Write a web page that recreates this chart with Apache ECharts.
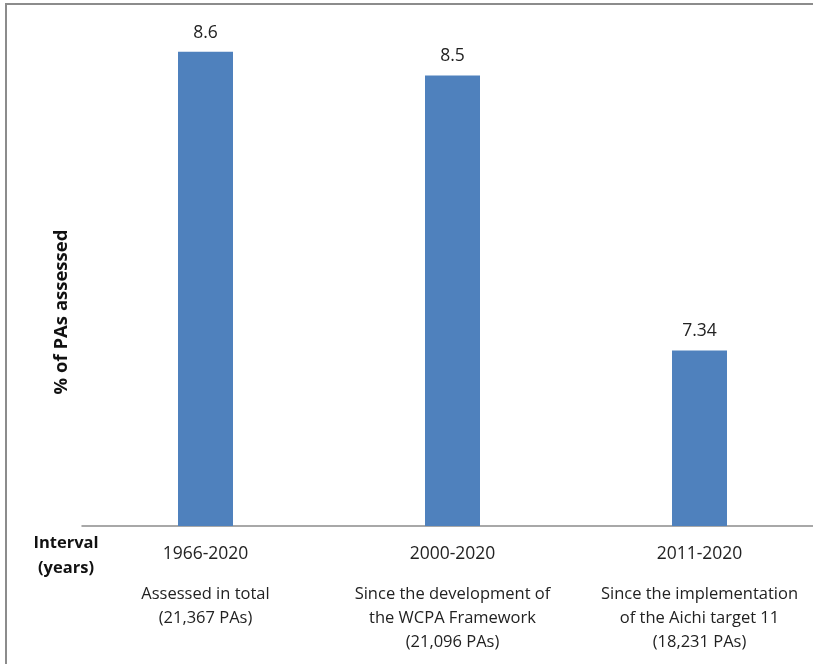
<!DOCTYPE html>
<html>
<head>
<meta charset="utf-8">
<script src="https://cdn.jsdelivr.net/npm/echarts@6/dist/echarts.min.js"></script>
<style>
html,body{margin:0;padding:0;background:#fff;}
#main{width:813px;height:664px;}
</style>
</head>
<body>
<div id="main"></div>
<script>
const periods = ['1966-2020', '2000-2020', '2011-2020'];
const descriptions = [
  ['Assessed in total', '(21,367 PAs)'],
  ['Since the development of', 'the WCPA Framework', '(21,096 PAs)'],
  ['Since the implementation', 'of the Aichi target 11', '(18,231 PAs)']
];
const values = [8.6, 8.5, 7.34];
const yAxisTitle = '% of PAs assessed';
const xAxisTitle = ['Interval', '(years)'];

const FONT = '"Open Sans", "Noto Sans", sans-serif';
const chart = echarts.init(document.getElementById('main'));

const catLabels = periods.map((p, i) =>
  '{yr|' + p + '}\n' + descriptions[i].map(d => '{d|' + d + '}').join('\n'));

chart.setOption({
  animation: false,
  backgroundColor: '#fff',
  grid: { left: 82, width: 741, top: 51.7, bottom: 664 - 526, outerBoundsMode: 'none', containLabel: false },
  xAxis: {
    type: 'category',
    data: catLabels,
    axisLine: { show: true, lineStyle: { color: '#8c8c8c', width: 1.5 } },
    axisTick: { show: false },
    axisLabel: {
      interval: 0,
      margin: 0,
      fontFamily: FONT,
      color: '#222',
      rich: {
        yr: { fontSize: 17.5, lineHeight: 56, color: '#222', fontFamily: FONT, align: 'center' },
        d: { fontSize: 16.5, lineHeight: 24, color: '#222', fontFamily: FONT, align: 'center' }
      }
    }
  },
  yAxis: {
    type: 'value',
    min: 6.6,
    max: 8.6,
    show: true,
    axisLine: { show: false },
    axisTick: { show: false },
    axisLabel: { show: false },
    splitLine: { show: false }
  },
  series: [{
    type: 'bar',
    data: values,
    barWidth: 55,
    itemStyle: { color: '#4f81bd' },
    label: {
      show: true,
      position: 'top',
      distance: 10,
      fontSize: 17.5,
      fontFamily: FONT,
      color: '#222',
      formatter: p => String(p.value)
    }
  }],
  graphic: [
    {
      type: 'rect',
      shape: { x: 6, y: 4, width: 900, height: 800 },
      style: { fill: 'none', stroke: '#8c8c8c', lineWidth: 2 },
      silent: true
    },
    {
      type: 'text',
      x: 62, y: 312,
      rotation: Math.PI / 2,
      style: {
        text: yAxisTitle,
        fontSize: 18.5, fontWeight: 'bold', fontFamily: FONT, fill: '#111',
        align: 'center', verticalAlign: 'middle'
      }
    },
    {
      type: 'text',
      x: 66, y: 543,
      style: {
        text: xAxisTitle[0],
        fontSize: 16.5, fontWeight: 'bold', fontFamily: FONT, fill: '#111',
        align: 'center', verticalAlign: 'middle'
      }
    },
    {
      type: 'text',
      x: 66, y: 568,
      style: {
        text: xAxisTitle[1],
        fontSize: 16.5, fontWeight: 'bold', fontFamily: FONT, fill: '#111',
        align: 'center', verticalAlign: 'middle'
      }
    }
  ]
});
</script>
</body>
</html>
